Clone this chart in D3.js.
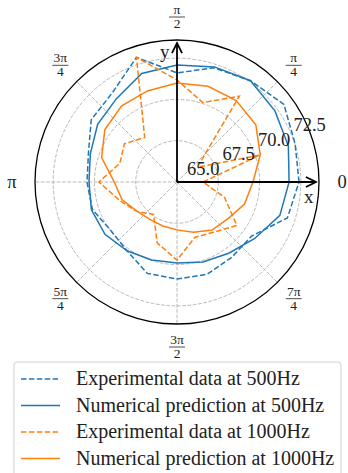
<!DOCTYPE html>
<html>
<head>
<meta charset="utf-8">
<script src="https://cdn.jsdelivr.net/npm/d3@7"></script>
<style>
  html, body { margin: 0; padding: 0; background: #fff; }
  svg { display: block; }
</style>
</head>
<body>
<svg id="chart"></svg>
<script>
// angles in degrees, 18 deg step
const angles = d3.range(0, 360, 18);

const expt500 = [72.39, 72.52, 73.0, 72.58, 72.27, 71.61, 72.94, 71.67, 71.42, 70.64,
                 70.45, 70.39, 69.97, 70.15, 70.82, 70.88, 70.88, 70.64, 70.58, 72.03];
const num500  = [71.79, 72.09, 72.33, 72.58, 72.33, 72.09, 71.91, 71.24, 70.94, 70.52,
                 70.33, 70.45, 70.39, 70.15, 69.97, 69.91, 70.09, 70.33, 70.82, 71.55];
const expt1000 = [66.58, 70.27, 66.52, 71.42, 70.06, 71.18, 72.94, 68.33, 68.94, 68.64,
                  69.73, 68.64, 68.03, 67.42, 68.88, 69.73, 68.52, 68.76, 69.48, 68.03];
const num1000  = [69.6, 70.3, 70.9, 71.1, 71.1, 71.0, 70.8, 70.7, 70.4, 69.8,
                  68.8, 68.5, 68.0, 67.8, 67.8, 67.9, 68.2, 68.6, 68.8, 69.3];

const rTicks = [65.0, 67.5, 70.0, 72.5];
const thetaTicks = [
  {deg: 0, num: "0"}, {deg: 45, num: "π", den: "4"}, {deg: 90, num: "π", den: "2"},
  {deg: 135, num: "3π", den: "4"}, {deg: 180, num: "π"}, {deg: 225, num: "5π", den: "4"},
  {deg: 270, num: "3π", den: "2"}, {deg: 315, num: "7π", den: "4"}
];

const seriesList = [
  {name: "Experimental data at 500Hz", values: expt500, color: "#1f77b4", dash: "5.5,2.4"},
  {name: "Numerical prediction at 500Hz", values: num500, color: "#1f77b4", dash: null},
  {name: "Experimental data at 1000Hz", values: expt1000, color: "#ff7f0e", dash: "5.5,2.4"},
  {name: "Numerical prediction at 1000Hz", values: num1000, color: "#ff7f0e", dash: null}
];

const width = 348, height = 473;
const cx = 177, cy = 182, outerR = 142;
const font = "'Liberation Serif', 'DejaVu Serif', serif";

const svg = d3.select("#chart").attr("width", width).attr("height", height);

const r = d3.scaleLinear().domain([65, 73.6]).range([0, outerR]);
// matplotlib angle (ccw from east) -> d3 angle (cw from north)
const toD3 = deg => Math.PI / 2 - deg * Math.PI / 180;

const g = svg.append("g").attr("transform", `translate(${cx},${cy})`);

// grid circles
g.selectAll(".rgrid")
  .data(rTicks.filter(d => r(d) > 0))
  .enter().append("circle")
  .attr("r", d => r(d))
  .attr("fill", "none")
  .attr("stroke", "#b0b0b0")
  .attr("stroke-width", 0.9)
  .attr("stroke-dasharray", "3.7,1.6");

// grid spokes
g.selectAll(".tgrid")
  .data(thetaTicks)
  .enter().append("line")
  .attr("x1", 0).attr("y1", 0)
  .attr("x2", d => outerR * Math.cos(d.deg * Math.PI / 180))
  .attr("y2", d => -outerR * Math.sin(d.deg * Math.PI / 180))
  .attr("stroke", "#b0b0b0")
  .attr("stroke-width", 0.9)
  .attr("stroke-dasharray", "3.7,1.6");

// series
const line = d3.lineRadial()
  .angle((d, i) => toD3(angles[i]))
  .radius(d => r(d))
  .curve(d3.curveLinearClosed);

g.selectAll(".series")
  .data(seriesList)
  .enter().append("path")
  .attr("d", d => line(d.values))
  .attr("fill", "none")
  .attr("stroke", d => d.color)
  .attr("stroke-width", 1.5)
  .attr("stroke-dasharray", d => d.dash);

// outer spine
g.append("circle")
  .attr("r", outerR)
  .attr("fill", "none")
  .attr("stroke", "black")
  .attr("stroke-width", 1.3);

// radial tick labels at 22.5 deg
const rlab = 22.5 * Math.PI / 180;
g.selectAll(".rlabel")
  .data(rTicks)
  .enter().append("text")
  .attr("x", (d, i) => r(d) * Math.cos(rlab) * 0.93 + 10)
  .attr("y", (d, i) => -r(d) * Math.sin(rlab) * 0.93 - 7)
  .attr("font-family", font)
  .attr("font-size", 18.5)
  .attr("fill", "#222")
  .text(d => d.toFixed(1));

// x and y arrows
const defs = svg.append("defs");
defs.append("marker")
  .attr("id", "arrow")
  .attr("viewBox", "0 0 10 10")
  .attr("refX", 9).attr("refY", 5)
  .attr("markerWidth", 7).attr("markerHeight", 7)
  .attr("orient", "auto")
  .append("path")
  .attr("d", "M1,1 L9,5 L1,9")
  .attr("fill", "none")
  .attr("stroke", "black")
  .attr("stroke-width", 1.4);

g.append("line")
  .attr("x1", 0).attr("y1", 0).attr("x2", 139).attr("y2", 0)
  .attr("stroke", "black").attr("stroke-width", 1.8)
  .attr("marker-end", "url(#arrow)");
g.append("line")
  .attr("x1", 0).attr("y1", 0).attr("x2", 0).attr("y2", -139)
  .attr("stroke", "black").attr("stroke-width", 1.8)
  .attr("marker-end", "url(#arrow)");

g.append("text").attr("x", 127).attr("y", 21)
  .attr("font-family", font).attr("font-size", 19).attr("fill", "#222").text("x");
g.append("text").attr("x", -17).attr("y", -124)
  .attr("font-family", font).attr("font-size", 19).attr("fill", "#222").text("y");

// angular labels
const labR = 165;
thetaTicks.forEach(t => {
  const a = t.deg * Math.PI / 180;
  const lx = labR * Math.cos(a), ly = -labR * Math.sin(a);
  const lg = g.append("g").attr("transform", `translate(${lx},${ly})`);
  if (t.den) {
    lg.append("text").attr("y", -3).attr("text-anchor", "middle")
      .attr("font-family", font).attr("font-size", 13.5).attr("fill", "#222").text(t.num);
    lg.append("line").attr("x1", -8).attr("x2", 8).attr("y1", 0).attr("y2", 0)
      .attr("stroke", "#222").attr("stroke-width", 0.8);
    lg.append("text").attr("y", 11).attr("text-anchor", "middle")
      .attr("font-family", font).attr("font-size", 13.5).attr("fill", "#222").text(t.den);
  } else {
    lg.append("text").attr("y", 6).attr("text-anchor", "middle")
      .attr("font-family", font).attr("font-size", 18.5).attr("fill", "#222").text(t.num);
  }
});

// legend
const legend = svg.append("g").attr("transform", "translate(14,362)");
legend.append("rect")
  .attr("width", 327).attr("height", 120)
  .attr("rx", 3)
  .attr("fill", "white").attr("fill-opacity", 0.8)
  .attr("stroke", "#d0d0d0").attr("stroke-width", 1);

const items = legend.selectAll(".item")
  .data(seriesList)
  .enter().append("g")
  .attr("transform", (d, i) => `translate(0,${17 + i * 26.5})`);

items.append("line")
  .attr("x1", 7).attr("x2", 46).attr("y1", 0).attr("y2", 0)
  .attr("stroke", d => d.color).attr("stroke-width", 1.5)
  .attr("stroke-dasharray", d => d.dash);

items.append("text")
  .attr("x", 62).attr("y", 6)
  .attr("font-family", font).attr("font-size", 20).attr("fill", "#222")
  .text(d => d.name);
</script>
</body>
</html>
